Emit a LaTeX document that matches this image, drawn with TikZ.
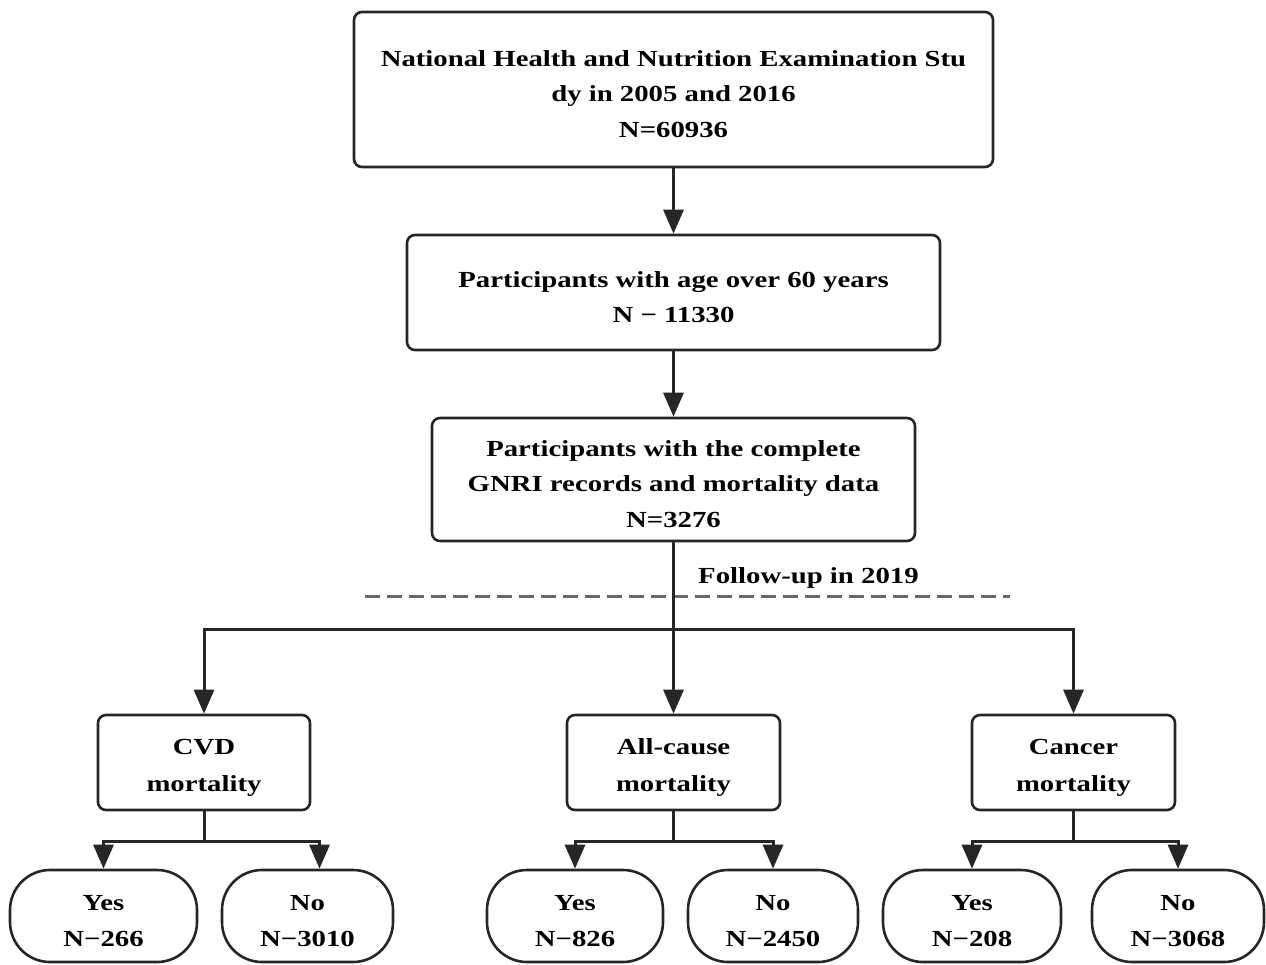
\documentclass[tikz,border=0pt]{standalone}
\usepackage{fontspec}
\setmainfont[FakeStretch=1.25]{Liberation Serif}
\usetikzlibrary{arrows.meta}
\newcommand{\topgap}{\rule{0pt}{25pt}}
\begin{document}
\begin{tikzpicture}[x=1pt,y=-1pt,
  txt/.style={font=\bfseries\fontsize{23}{35.5}\selectfont, align=center, inner sep=0pt},
  box/.style={txt, draw=black!85, line width=2.6pt, rounded corners=8pt},
  pill/.style={box, rounded corners=40pt, minimum height=92pt},
  arr/.style={line width=3pt, draw=black!85, -{Triangle[width=20pt,length=24pt]}},
  ln/.style={line width=3pt, draw=black!85},
  dash line/.style={line width=3pt, draw=black!60, dash pattern=on 15pt off 7pt}]
\useasboundingbox (0,0) rectangle (1266,964);

\node[box, minimum width=639pt, minimum height=155pt] (b1) at (673.5,89.5)
  {\topgap National Health and Nutrition Examination Stu\\dy in 2005 and 2016\\N=60936};
\node[box, minimum width=533pt, minimum height=115pt] (b2) at (673.5,292.5)
  {\topgap Participants with age over 60 years\\N − 11330};
\node[box, minimum width=483pt, minimum height=123pt] (b3) at (673.5,479.5)
  {\topgap Participants with the complete\\GNRI records and mortality data\\N=3276};

\node[box, minimum width=212pt, minimum height=95pt] (cvd) at (204,762.5) {\topgap CVD\\[1.5pt]mortality};
\node[box, minimum width=213pt, minimum height=95pt] (all) at (673.5,762.5) {\topgap All-cause\\[1.5pt]mortality};
\node[box, minimum width=203pt, minimum height=95pt] (can) at (1073.5,762.5) {\topgap Cancer\\[1.5pt]mortality};

\node[pill, minimum width=187pt] (cvdyes) at (103.5,916) {\topgap Yes\\N−266};
\node[pill, minimum width=171pt] (cvdno) at (307.5,916) {\topgap No\\N−3010};
\node[pill, minimum width=176pt] (allyes) at (575,916) {\topgap Yes\\N−826};
\node[pill, minimum width=170pt] (allno) at (773,916) {\topgap No\\N−2450};
\node[pill, minimum width=178pt] (canyes) at (972,916) {\topgap Yes\\N−208};
\node[pill, minimum width=172pt] (canno) at (1178,916) {\topgap No\\N−3068};

\node[txt, anchor=west] (fu) at (698,578) {Follow-up in 2019};
\coordinate (dl) at (365,596);
\coordinate (dr) at (1010,596);
\draw[dash line] (dl) -- (dr);

\draw[arr] (b1.south) -- (b2.north);
\draw[arr] (b2.south) -- (b3.north);
\draw[arr] (b3.south) -- (all.north);
\coordinate (hb) at (673.5,629);
\draw[arr] (hb) -| (cvd.north);
\draw[arr] (hb) -| (can.north);

\coordinate (cvdb) at (204,841);
\coordinate (allb) at (673.5,841);
\coordinate (canb) at (1073.5,841);
\draw[ln] (cvd.south) -- (cvdb);
\draw[ln] (all.south) -- (allb);
\draw[ln] (can.south) -- (canb);
\draw[arr] (cvdb) -| (cvdyes.north);
\draw[arr] (cvdb) -| ([xshift=12pt]cvdno.north);
\draw[arr] (allb) -| (allyes.north);
\draw[arr] (allb) -| (allno.north);
\draw[arr] (canb) -| (canyes.north);
\draw[arr] (canb) -| (canno.north);
\end{tikzpicture}
\end{document}
